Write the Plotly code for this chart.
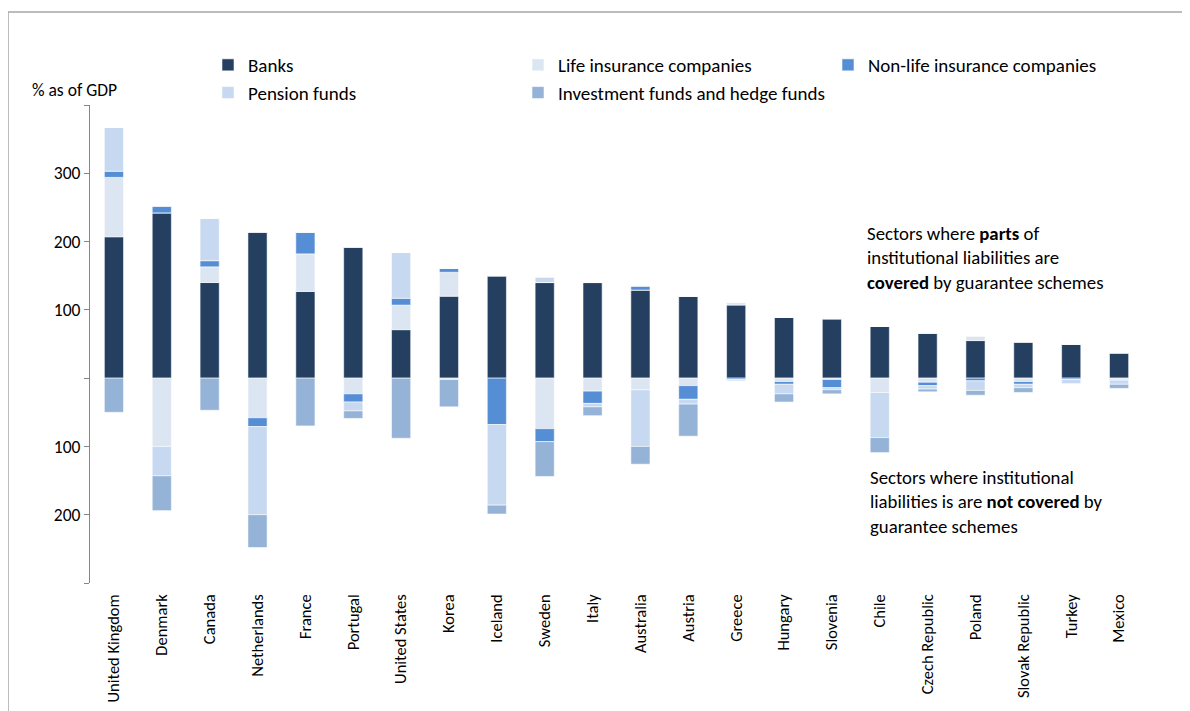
import plotly.graph_objects as go

countries = ["United Kingdom", "Denmark", "Canada", "Netherlands", "France", "Portugal",
             "United States", "Korea", "Iceland", "Sweden", "Italy", "Australia", "Austria",
             "Greece", "Hungary", "Slovenia", "Chile", "Czech Republic", "Poland",
             "Slovak Republic", "Turkey", "Mexico"]

# Covered by guarantee schemes (plotted above zero), % of GDP
banks       = [207, 242, 140, 214, 127, 192, 71, 120, 150, 140, 140, 129, 120, 107, 89, 87, 76, 66, 55, 53, 50, 37]
life_cov    = [87, 0, 23, 0, 55, 0, 36, 35, 0, 0, 0, 0, 0, 4, 0, 0, 0, 0, 7, 0, 0, 0]
nonlife_cov = [9, 10, 9, 0, 32, 0, 10, 6, 0, 0, 0, 6, 0, 0, 0, 0, 0, 0, 0, 0, 0, 0]
pension_cov = [64, 0, 62, 0, 0, 0, 67, 0, 0, 8, 0, 0, 0, 0, 0, 0, 0, 0, 0, 0, 0, 0]

# Not covered by guarantee schemes (plotted below zero), % of GDP
life_unc    = [0, 100, 0, 58, 0, 23, 0, 2, 0, 74, 19, 17, 11, 0, 5, 2, 21, 6, 0, 5, 0, 2]
nonlife_unc = [0, 0, 0, 13, 0, 12, 0, 0, 68, 19, 18, 0, 20, 2, 4, 12, 0, 5, 4, 4, 2, 1]
pension_unc = [0, 43, 0, 129, 0, 13, 0, 0, 118, 0, 5, 83, 7, 2, 14, 3, 66, 5, 14, 5, 6, 6]
invest_unc  = [50, 51, 47, 48, 70, 11, 88, 40, 13, 51, 13, 26, 47, 0, 12, 6, 22, 4, 7, 7, 0, 6]

y_tickvals = [-300, -200, -100, 0, 100, 200, 300, 400]
y_ticktext = ["", "200", "100", "", "100", "200", "300", ""]

names = {
    "banks": "Banks",
    "life": "Life insurance companies",
    "nonlife": "Non-life insurance companies",
    "pension": "Pension funds",
    "invest": "Investment funds and hedge funds",
}
colors = {
    "banks": "#243F60",
    "life": "#DCE6F2",
    "nonlife": "#558ED5",
    "pension": "#C6D9F1",
    "invest": "#95B3D7",
}

FONT = "Carlito, Lato, Calibri, sans-serif"
OFF = 8                      # page body margin around the figure
W, H = 1182, 703             # figure size
L, R, T, B = 82, 1135, 97, 575   # plot area in figure pixels
PW, PH = R - L, B - T
ymin, ymax = -300, 400


def px2x(page_px):
    return (page_px - OFF - L) / PW


def py2y(page_py):
    return (B - (page_py - OFF)) / PH


fig = go.Figure()


def add(key, vals, sign, show):
    fig.add_trace(go.Bar(
        x=countries, y=[sign * v for v in vals], name=names[key],
        legendgroup=key, showlegend=show,
        marker=dict(color=colors[key], line=dict(color="rgba(255,255,255,0.7)", width=0.8)),
    ))


# positive stack (covered): banks, life, non-life, pension
add("banks", banks, 1, True)
add("life", life_cov, 1, True)
add("nonlife", nonlife_cov, 1, True)
add("pension", pension_cov, 1, True)
# negative stack (not covered) from zero: life, non-life, pension, investment
add("life", life_unc, -1, False)
add("nonlife", nonlife_unc, -1, False)
add("pension", pension_unc, -1, False)
add("invest", invest_unc, -1, True)

zero_pos = (0 - ymin) / (ymax - ymin)


def note(text, page_x, page_y):
    return dict(text=text, x=px2x(page_x), y=py2y(page_y), xref="paper", yref="paper",
                xanchor="left", yanchor="middle", align="left", showarrow=False,
                font=dict(size=18.8))


fig.update_layout(
    width=W, height=H,
    margin=dict(l=L, r=W - R, t=T, b=H - B, autoexpand=False),
    barmode="relative", bargap=0.6,
    plot_bgcolor="white", paper_bgcolor="white",
    font=dict(family=FONT, size=19, color="#000000"),
    xaxis=dict(
        type="category", categoryorder="array", categoryarray=countries,
        tickangle=-90, showline=False, ticks="", showgrid=False, automargin=False,
        ticklabelstandoff=7, tickfont=dict(size=16.5),
    ),
    xaxis2=dict(
        overlaying="x", anchor="free", position=zero_pos,
        range=[-0.5, len(countries) - 0.5],
        tickvals=[i + 0.5 for i in range(len(countries))],
        showticklabels=False, ticks="outside", ticklen=5, tickcolor="#868686",
        showline=True, linecolor="#868686", linewidth=1.5, showgrid=False, zeroline=False,
    ),
    yaxis=dict(
        range=[ymin, ymax], tickvals=y_tickvals, ticktext=y_ticktext,
        showline=True, linecolor="#868686", linewidth=1.2, automargin=False,
        ticks="outside", ticklen=5, tickcolor="#868686",
        showgrid=False, zeroline=False, tickfont=dict(size=17.5),
    ),
    legend=dict(
        orientation="h", x=px2x(208), y=py2y(46), xanchor="left", yanchor="top",
        entrywidth=265, entrywidthmode="pixels", itemwidth=30,
        font=dict(size=19), traceorder="normal", bgcolor="rgba(0,0,0,0)",
    ),
    annotations=[
        dict(text="% as of GDP", x=px2x(30), y=py2y(90), xref="paper", yref="paper",
             xanchor="left", yanchor="middle", showarrow=False, font=dict(size=17.5)),
        note("Sectors where <b>parts</b> of<br>institutional liabilities are<br>"
             "<b>covered</b> by guarantee schemes", 865, 258),
        note("Sectors where institutional<br>liabilities is are <b>not covered</b> by<br>"
             "guarantee schemes", 868, 502),
    ],
    shapes=[
        dict(type="line", xref="paper", yref="paper", x0=px2x(8), x1=px2x(8),
             y0=py2y(12), y1=py2y(720), line=dict(color="#A6A6A6", width=1.5)),
        dict(type="line", xref="paper", yref="paper", x0=px2x(8), x1=px2x(1200),
             y0=py2y(12), y1=py2y(12), line=dict(color="#A6A6A6", width=1.5)),
    ],
)

fig.write_html("out.html")
